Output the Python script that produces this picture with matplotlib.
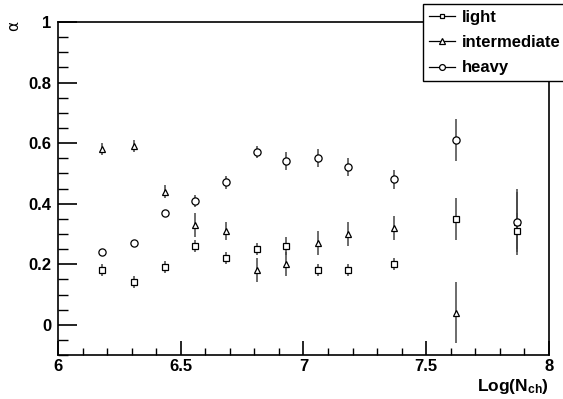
import numpy as np
import matplotlib.pyplot as plt
from matplotlib.ticker import MultipleLocator, FormatStrFormatter

## Data
log_nch = [6.18, 6.31, 6.435, 6.56, 6.685, 6.81, 6.93, 7.06, 7.18, 7.37, 7.62, 7.87]

light = [0.18, 0.14, 0.19, 0.26, 0.22, 0.25, 0.26, 0.18, 0.18, 0.20, 0.35, 0.31]
light_err = [0.02, 0.02, 0.02, 0.02, 0.02, 0.02, 0.03, 0.02, 0.02, 0.02, 0.07, 0.06]

intermediate = [0.58, 0.59, 0.44, 0.33, 0.31, 0.18, 0.20, 0.27, 0.30, 0.32, 0.04, 0.34]
intermediate_err = [0.02, 0.02, 0.02, 0.04, 0.03, 0.04, 0.04, 0.04, 0.04, 0.04, 0.10, 0.11]

heavy = [0.24, 0.27, 0.37, 0.41, 0.47, 0.57, 0.54, 0.55, 0.52, 0.48, 0.61, 0.34]
heavy_err = [0.0, 0.0, 0.0, 0.02, 0.02, 0.02, 0.03, 0.03, 0.03, 0.03, 0.07, 0.10]

plt.rcParams['font.family'] = ['Liberation Sans', 'DejaVu Sans']
plt.rcParams['mathtext.fontset'] = 'custom'
plt.rcParams['mathtext.bf'] = 'Liberation Sans:bold'
plt.rcParams['mathtext.rm'] = 'Liberation Sans:bold'

fig = plt.figure(figsize=(5.63, 3.99), dpi=100)
ax = fig.add_axes([0.103, 0.110, 0.872, 0.835])

series = [
    (light, light_err, 's', 4.6, "light"),
    (intermediate, intermediate_err, '^', 5.0, "intermediate"),
    (heavy, heavy_err, 'o', 5.2, "heavy"),
]
handles = []
for vals, errs, marker, ms, name in series:
    ax.errorbar(log_nch, vals, yerr=errs, fmt=marker, ms=ms, mfc='white', mec='black',
                mew=0.9, ecolor='#444444', elinewidth=1.1, capsize=0, zorder=3)
    h, = ax.plot([], [], color='black', lw=0.9, marker=marker, ms=ms - 1,
                 mfc='white', mec='black', mew=0.9, label=name)
    handles.append(h)

ax.set_xlim(6, 8)
ax.set_ylim(-0.1, 1.0)
ax.xaxis.set_major_locator(MultipleLocator(0.5))
ax.xaxis.set_minor_locator(MultipleLocator(0.1))
ax.yaxis.set_major_locator(MultipleLocator(0.2))
ax.yaxis.set_minor_locator(MultipleLocator(0.05))
ax.xaxis.set_major_formatter(FormatStrFormatter('%g'))
ax.yaxis.set_major_formatter(FormatStrFormatter('%g'))
ax.tick_params(which='major', direction='in', length=10, width=1.2, labelsize=12, pad=5)
ax.tick_params(axis='x', which='major', pad=3)
ax.tick_params(axis='y', which='major', length=14)
ax.tick_params(which='minor', direction='in', length=5, width=1.0)
ax.tick_params(axis='y', which='minor', length=7)
for lbl in ax.get_xticklabels() + ax.get_yticklabels():
    lbl.set_fontweight('bold')
for sp in ax.spines.values():
    sp.set_linewidth(1.2)

fig.text(0.025, 0.935, "α", rotation=90, fontsize=11, ha='center', va='center',
         family=['DejaVu Sans'])
ax.text(1.0, -0.066, r"$\mathbf{Log(N_{ch})}$", transform=ax.transAxes,
        ha='right', va='top', fontsize=12.5)

leg = fig.legend(handles=handles, loc='upper left', bbox_to_anchor=(0.751, 0.99),
                 fancybox=False, edgecolor='black', framealpha=1,
                 prop={'weight': 'bold', 'size': 12}, handlelength=1.6,
                 handletextpad=0.4, borderpad=0.35, labelspacing=0.62,
                 borderaxespad=0)
leg.get_frame().set_linewidth(1.0)

fig.savefig("out.png", dpi=100)
